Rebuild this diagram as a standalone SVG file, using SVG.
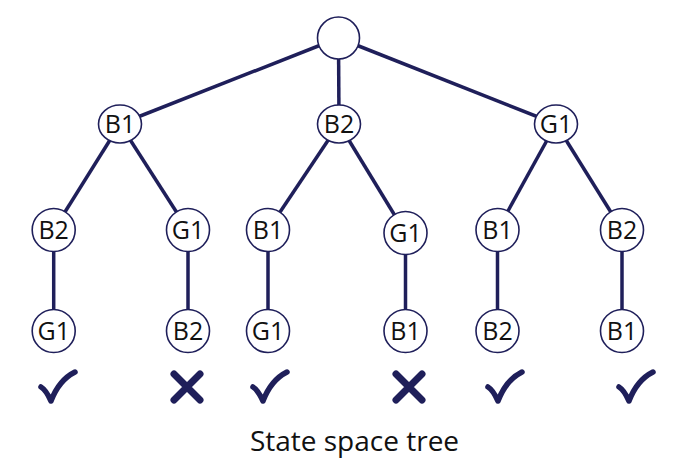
<svg xmlns="http://www.w3.org/2000/svg" width="700" height="471" viewBox="0 0 700 471">
<style>
.edge{stroke:#1f1f5a;stroke-width:3.5;fill:none}
.node{fill:#fff;stroke:#1f1f5a;stroke-width:1.6}
.lbl{font-family:"Open Sans","Noto Sans",sans-serif;font-size:25px;fill:#111;text-anchor:middle}
.ok{stroke:#1f1f5a;stroke-width:5.5;fill:none;stroke-linecap:round;stroke-linejoin:round}
.no{stroke:#1f1f5a;stroke-width:7;fill:none;stroke-linecap:round}
.title{font-family:"Open Sans","Noto Sans",sans-serif;font-size:28px;fill:#111;text-anchor:middle}
</style>
<rect width="700" height="471" fill="#fff"/>
<g id="connectors">
<line class="edge" x1="338.5" y1="38" x2="120" y2="124"/>
<line class="edge" x1="338.5" y1="38" x2="339" y2="124"/>
<line class="edge" x1="338.5" y1="38" x2="556" y2="124"/>
<line class="edge" x1="120" y1="124" x2="53.7" y2="230"/>
<line class="edge" x1="120" y1="124" x2="188" y2="230"/>
<line class="edge" x1="339" y1="124" x2="268" y2="230"/>
<line class="edge" x1="339" y1="124" x2="405.5" y2="233"/>
<line class="edge" x1="556" y1="124" x2="497.5" y2="230"/>
<line class="edge" x1="556" y1="124" x2="622" y2="230"/>
<line class="edge" x1="53.7" y1="230" x2="53.7" y2="331"/>
<line class="edge" x1="188" y1="230" x2="188" y2="331"/>
<line class="edge" x1="268" y1="230" x2="268" y2="331"/>
<line class="edge" x1="405.5" y1="233" x2="405.5" y2="331"/>
<line class="edge" x1="497.5" y1="230" x2="497.5" y2="331"/>
<line class="edge" x1="622" y1="230" x2="622" y2="331"/>
</g>
<g id="root"><circle class="node" cx="338.5" cy="38" r="21"/></g>
<g id="n-B1"><ellipse class="node" cx="120" cy="124" rx="21.5" ry="19"/><text class="lbl" x="120" y="133">B1</text></g>
<g id="n-B2"><ellipse class="node" cx="339" cy="124" rx="21.5" ry="19"/><text class="lbl" x="339" y="133">B2</text></g>
<g id="n-G1"><ellipse class="node" cx="556" cy="124" rx="21.5" ry="19"/><text class="lbl" x="556" y="133">G1</text></g>
<g id="n-B1-B2"><circle class="node" cx="53.7" cy="230" r="21.5"/><text class="lbl" x="53.7" y="239">B2</text></g>
<g id="n-B1-G1"><circle class="node" cx="188" cy="230" r="21.5"/><text class="lbl" x="188" y="239">G1</text></g>
<g id="n-B2-B1"><circle class="node" cx="268" cy="230" r="21.5"/><text class="lbl" x="268" y="239">B1</text></g>
<g id="n-B2-G1"><circle class="node" cx="405.5" cy="233" r="21.5"/><text class="lbl" x="405.5" y="242">G1</text></g>
<g id="n-G1-B1"><circle class="node" cx="497.5" cy="230" r="21.5"/><text class="lbl" x="497.5" y="239">B1</text></g>
<g id="n-G1-B2"><circle class="node" cx="622" cy="230" r="21.5"/><text class="lbl" x="622" y="239">B2</text></g>
<g id="n-B1-B2-G1"><circle class="node" cx="53.7" cy="331" r="21.5"/><text class="lbl" x="53.7" y="340">G1</text></g>
<g id="n-B1-G1-B2"><circle class="node" cx="188" cy="331" r="21.5"/><text class="lbl" x="188" y="340">B2</text></g>
<g id="n-B2-B1-G1"><circle class="node" cx="268" cy="331" r="21.5"/><text class="lbl" x="268" y="340">G1</text></g>
<g id="n-B2-G1-B1"><circle class="node" cx="405.5" cy="331" r="21.5"/><text class="lbl" x="405.5" y="340">B1</text></g>
<g id="n-G1-B1-B2"><circle class="node" cx="497.5" cy="331" r="21.5"/><text class="lbl" x="497.5" y="340">B2</text></g>
<g id="n-G1-B2-B1"><circle class="node" cx="622" cy="331" r="21.5"/><text class="lbl" x="622" y="340">B1</text></g>
<defs>
<path id="chk" d="M0,15 Q5,18 10,29 Q18,8 34,0"/>
<path id="crs" d="M0,0 L26,26 M26,0 L0,26"/>
</defs>
<g id="marks">
<use href="#chk" class="ok" x="41" y="372"/>
<use href="#crs" class="no" x="174" y="374"/>
<use href="#chk" class="ok" x="253" y="372"/>
<use href="#crs" class="no" x="396" y="374"/>
<use href="#chk" class="ok" x="488" y="372"/>
<use href="#chk" class="ok" x="619" y="372"/>
</g>
<text class="title" x="354.5" y="451">State space tree</text>
</svg>
